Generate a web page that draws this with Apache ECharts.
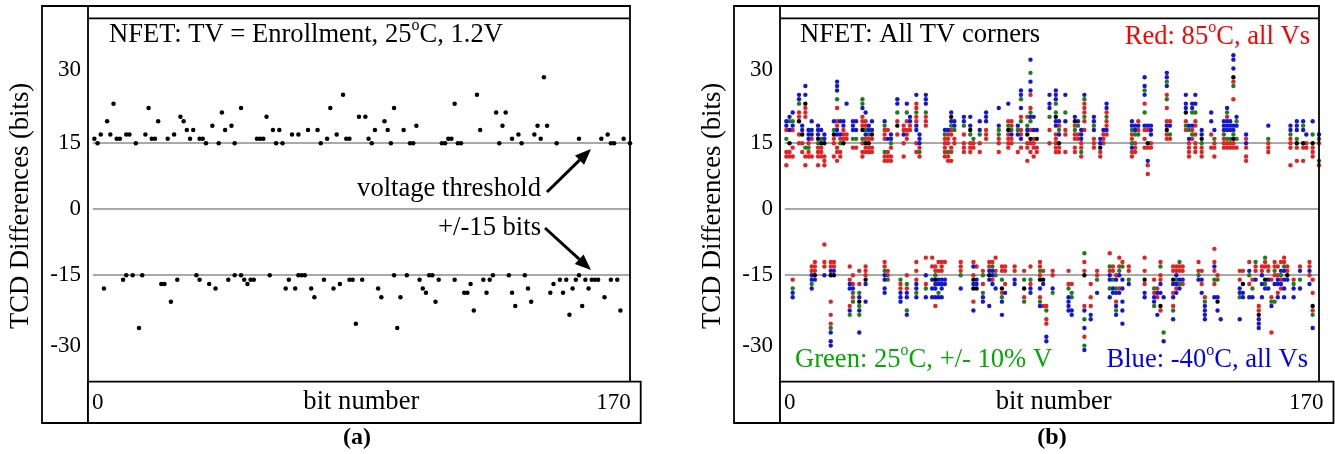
<!DOCTYPE html>
<html><head><meta charset="utf-8">
<script src="https://cdn.jsdelivr.net/npm/echarts@6/dist/echarts.min.js"></script>
<style>html,body{margin:0;padding:0;background:#fff}#c{width:1335px;height:454px}</style>
</head><body><div id="c"></div>
<script>
// ---------- data ----------
const yTicks = [-30, -15, 0, 15, 30];
const thresholds = [15, 0, -15];
const xLabels = ['0', '170'];

// (a) enrollment TCD difference per bit: [bit, value]
const enrollment = [
[2,16],[3,15],[4,17],[6,20],[7,17],[8,24],[9,16],[10,16],[12,17],[13,17],[15,15],[18,17],[19,23],[20,16],[21,16],[22,20],[25,16],[27,17],[29,21],[30,20],[31,18],[32,16],[33,18],[35,16],[36,16],[37,15],[39,19],[41,15],[42,22],[43,18],[45,19],[46,15],[48,23],[53,16],[54,16],[55,16],[56,21],[58,18],[59,15],[60,18],[61,15],[64,17],[66,17],[69,18],[72,18],[73,15],[75,16],[76,23],[78,17],[80,26],[81,16],[82,16],[85,21],[87,21],[88,16],[89,15],[90,18],[93,20],[94,18],[95,15],[96,23],[99,18],[101,15],[102,15],[103,19],[111,15],[112,15],[113,16],[114,16],[115,24],[116,15],[117,15],[122,26],[123,18],[128,22],[129,15],[130,19],[131,22],[133,16],[135,17],[136,15],[140,17],[141,19],[142,16],[143,30],[144,19],[147,15],[154,16],[161,16],[163,17],[164,15],[165,15],[168,16],[170,15],
[5,-18],[11,-16],[12,-15],[14,-15],[16,-27],[17,-15],[23,-17],[24,-17],[26,-21],[28,-16],[34,-15],[35,-16],[38,-17],[40,-18],[44,-16],[46,-15],[48,-15],[49,-16],[50,-17],[51,-16],[52,-16],[57,-15],[62,-18],[63,-16],[65,-18],[66,-15],[67,-15],[68,-15],[70,-18],[71,-20],[74,-16],[77,-18],[79,-17],[82,-16],[83,-16],[84,-26],[86,-16],[91,-18],[92,-20],[96,-15],[97,-27],[98,-20],[100,-15],[104,-16],[105,-18],[106,-19],[107,-15],[108,-15],[109,-21],[110,-16],[115,-16],[118,-19],[119,-19],[120,-17],[121,-23],[124,-16],[125,-19],[126,-16],[127,-15],[132,-15],[133,-19],[134,-22],[137,-15],[138,-18],[139,-21],[145,-19],[146,-17],[148,-16],[149,-19],[150,-16],[151,-24],[152,-18],[153,-16],[154,-15],[155,-22],[156,-16],[157,-18],[158,-16],[159,-16],[160,-16],[162,-20],[164,-16],[166,-16],[167,-23]
];

// (b) all TV corners: [bit, [values...]]
const red85 = [
[2,[18,13,12,10]],[3,[13,12]],[4,[18,14,12]],[6,[22,21,17,15]],[7,[15,13]],[8,[23,22,21,12,10]],[9,[15,13,12]],[10,[16,12]],[12,[14,13,12,10]],[13,[14,13,12]],[14,[12,11,10]],[17,[16,15,12]],[18,[23,20,19,14,13,11]],[19,[16,13,12]],[20,[18,17,16]],[21,[17,16]],[23,[14]],[24,[14]],[26,[21,20,19,15,13,12]],[27,[20,19,16,14,13]],[28,[16,14,13]],[29,[16,14,13]],[33,[18,17,16,12,11]],[34,[18,13,12,11]],[35,[14,12,11]],[37,[20,17]],[39,[19,18,15,12]],[40,[20,18,17,16]],[41,[19,18]],[43,[24,23,21,20,15,13]],[44,[14,12]],[46,[21,20,19]],[52,[16,15,14,13,12]],[53,[17,16,15,12,11]],[54,[18,17,14,13,11]],[55,[16,15]],
[58,[17,15,14,13]],[60,[15,14,13]],[61,[15,14]],[63,[15,13]],[65,[18,17,16]],[69,[16,15,13]],[72,[20,17,16,15,14]],[73,[20,19,16,15]],[75,[13]],[76,[21,18,17,14]],[78,[21,15,14,11]],[79,[26,23,18,15,13]],[80,[16,15,14,12]],[81,[14,13]],[85,[18,15]],[87,[17,16,15,14,13]],[88,[19,14,13]],[90,[18,17,13]],[93,[19,17,16,14,13]],[94,[17,16]],[95,[15,14,12]],[96,[24,23,22,20,18]],[99,[16,15,14]],[101,[13,12]],[102,[17,16,15]],[103,[22,20,19,17]],[111,[17,16,13,12]],[112,[15,14,13]],[113,[20,18]],[115,[24,18,16,14]],[116,[18,14,10,8]],[117,[15,14]],[122,[26,23,20,17,16]],[123,[20,16]],[128,[20,18]],[129,[15,14,13,12]],[130,[18,16]],[131,[20,19,17,15,14,13]],[133,[14,13,12]],[136,[17,14]],[137,[15,14,12]],[140,[16,15,14]],[141,[21,15,14]],[142,[15,14]],[143,[29,25,15,14]],[144,[14]],[147,[16,14,12,11]],[154,[15,14,13]],[161,[16,15,14,10]],[163,[14,11]],[165,[14,11]],[166,[15,14]],[168,[14,13,12]],[170,[15,10]],
[4,[-16]],[10,[-13,-14]],[11,[-12,-13,-14]],[14,[-8,-12,-13]],[16,[-12,-13,-21,-24,-26]],[17,[-12,-13]],[22,[-13,-16,-22]],[23,[-15,-17,-20]],[25,[-14,-17]],[27,[-13,-14,-15]],[33,[-12,-13]],[34,[-14,-15]],[38,[-17,-18]],[40,[-15,-18]],[43,[-12,-14,-16]],[46,[-11,-17]],[48,[-11,-13]],[49,[-13,-14,-22]],[50,[-12,-14]],[51,[-12,-13,-14]],[52,[-12]],[57,[-12,-13,-14]],[61,[-12,-15,-21]],[62,[-13]],[64,[-14,-17]],[66,[-12,-13]],[67,[-12,-16]],[68,[-11,-14]],[70,[-13,-14,-19]],[71,[-13,-14,-17]],[74,[-13,-14]],[77,[-14,-20]],[79,[-13,-17]],[82,[-12,-13,-15,-20]],[83,[-14,-22]],[84,[-22,-25,-26]],[86,[-14,-15]],[91,[-14,-17]],[92,[-17]],[96,[-12,-14,-22,-29]],[98,[-17,-20,-22]],[100,[-14,-15]],[104,[-10,-14]],[105,[-13,-14]],[106,[-15,-21]],[107,[-11,-13,-18]],[108,[-12]],[110,[-13,-14]],[115,[-11,-14,-17]],[118,[-16,-19]],[119,[-18,-20]],[120,[-12,-15,-16,-23]],[124,[-13,-14,-19,-22]],[125,[-13,-14,-18]],[126,[-13,-14]],[127,[-13,-14,-17]],[132,[-12,-14]],[133,[-14,-17]],[134,[-20]],[137,[-9,-12,-14,-17]],[138,[-15]],[145,[-14,-16]],[146,[-14]],[148,[-12,-17]],[149,[-16]],[150,[-13,-14]],[151,[-22,-23]],[152,[-13,-14]],[153,[-12,-13]],[154,[-13,-14]],[155,[-16,-20,-28]],[156,[-12,-13,-15]],[157,[-13,-15,-19]],[158,[-12,-16,-18]],[159,[-11,-12]],[160,[-13,-14]],[162,[-16]],[164,[-13]],[167,[-12,-13,-15]],[168,[-16,-19,-23]]
];
const green25 = [
[2,[16]],[3,[20]],[4,[20]],[6,[24]],[8,[14]],[9,[14]],[12,[15]],[13,[16]],[17,[18]],[18,[25]],[19,[15]],[23,[16]],[24,[16]],[26,[25,24,16]],[27,[18]],[28,[17]],[33,[19,13]],[35,[15]],[37,[22]],[40,[22]],[43,[22]],[44,[13]],[46,[22]],[52,[17]],[53,[13]],[54,[19]],[55,[18]],[58,[19]],[60,[17]],[61,[16]],[63,[17]],[69,[18,17]],[72,[19]],[73,[18]],[75,[18]],[76,[25,20]],[78,[19]],[79,[31,22,20]],[85,[21]],[87,[24,22]],[88,[18]],[90,[22]],[93,[18]],[94,[19]],[95,[13]],[96,[25,21]],[99,[19]],[103,[21]],[111,[18,15]],[112,[17]],[113,[17]],[115,[27,22]],[122,[29,25]],[123,[17]],[128,[19]],[129,[18]],[130,[22,17]],[131,[22]],[133,[15]],[137,[16]],[140,[17]],[141,[22,16]],[142,[16]],[143,[28,17]],[144,[20,16]],[154,[16]],[161,[17]],[163,[16]],[165,[19]],[168,[17]],[170,[16,11]],
[4,[-18]],[10,[-17]],[16,[-27]],[22,[-24]],[23,[-19,-21]],[25,[-19,-22,-24]],[33,[-14]],[34,[-16]],[38,[-16]],[40,[-17,-23]],[43,[-19]],[46,[-18]],[49,[-15]],[50,[-19]],[57,[-15]],[64,[-15,-19]],[67,[-13]],[68,[-15]],[70,[-16,-20]],[77,[-16,-21]],[79,[-16]],[82,[-14,-21]],[84,[-23]],[86,[-19]],[91,[-18]],[92,[-19,-20]],[96,[-10,-25,-31]],[100,[-16]],[104,[-13,-18]],[105,[-16]],[106,[-18,-23]],[107,[-14]],[108,[-13]],[110,[-16]],[118,[-18,-22]],[120,[-13]],[121,[-28]],[124,[-23]],[125,[-16]],[126,[-12,-17]],[132,[-15]],[134,[-21]],[137,[-16]],[138,[-16]],[145,[-20]],[148,[-15]],[149,[-18]],[150,[-12]],[153,[-11,-17]],[155,[-21]],[156,[-14,-21]],[158,[-15]],[159,[-13]],[162,[-17]],[164,[-16]],[168,[-24]]
];
const blueM40 = [
[2,[20,19]],[3,[21,18]],[4,[22,19]],[6,[26,25]],[7,[19,18]],[8,[28,26]],[9,[18,17,16]],[10,[20,18,17]],[12,[19,18,17]],[13,[18]],[14,[17,16]],[17,[20]],[18,[29,28,27,18,17]],[19,[20,17]],[20,[20,19]],[21,[24]],[23,[20,19,18]],[24,[20,18]],[26,[23]],[27,[22,17]],[28,[19,18]],[29,[20,18]],[33,[20]],[34,[16]],[35,[17,16]],[37,[25,24]],[39,[17]],[40,[24]],[41,[21,20]],[43,[26,19,18]],[44,[17,16,15]],[46,[26,25,24]],[52,[18]],[53,[18]],[54,[22,20]],[55,[20,19]],[58,[21,20]],[60,[21,19]],[63,[20,18]],[65,[22,21,20]],[69,[23,19]],[72,[24]],[73,[17]],[75,[19,17]],[76,[27,26,23,16]],[78,[18]],[79,[34,29,27,21]],[80,[21,18]],[81,[18]],[85,[26,24,23]],[87,[27,26,25,20,19]],[88,[20,17]],[90,[26,20]],[93,[21]],[94,[20]],[95,[18,17,16]],[96,[26]],[99,[21,20,18]],[101,[16,15]],[102,[18]],[103,[24,23,18]],[111,[20,19,14]],[112,[19,18]],[113,[19]],[115,[30,28,26,19]],[116,[19,11]],[117,[19,18,17]],[122,[31,30,28,19]],[123,[19]],[128,[26,24,23]],[129,[19,16]],[130,[24,23,19]],[131,[26,24]],[133,[18,17]],[136,[22,20]],[137,[18]],[140,[20,19,18]],[141,[23,20,19,18]],[142,[20,19,18]],[143,[35,34,32,19,18]],[144,[21,19]],[147,[17,15]],[154,[19]],[161,[19,18]],[163,[20,19,18]],[165,[20,18]],[166,[17]],[168,[20]],[170,[17]],
[4,[-19,-20]],[10,[-15,-16,-18]],[11,[-16]],[14,[-15]],[16,[-14,-28,-30,-31]],[17,[-14]],[22,[-17,-18,-23]],[23,[-18]],[25,[-20,-23,-28]],[27,[-17,-21]],[33,[-15,-16,-18,-19]],[38,[-19,-20,-21]],[40,[-19,-20,-24]],[43,[-17,-18,-20]],[46,[-15,-20]],[48,[-16,-18,-20]],[49,[-17,-18,-20]],[50,[-16,-17,-20]],[51,[-16,-17,-18,-20]],[52,[-16,-17]],[57,[-18]],[61,[-13,-17,-23]],[62,[-16,-17]],[64,[-20,-21]],[66,[-14,-16,-22]],[67,[-14,-15,-17]],[68,[-18]],[70,[-21,-24]],[71,[-19]],[74,[-16,-17]],[79,[-18,-19]],[82,[-18,-22]],[83,[-17]],[84,[-29,-30]],[86,[-18]],[91,[-20,-21,-22,-23]],[92,[-23,-24]],[96,[-23,-27,-32]],[98,[-24,-25]],[100,[-19]],[104,[-15,-16,-20]],[105,[-18,-19]],[106,[-16,-19,-22,-24]],[107,[-15,-19]],[108,[-16,-18,-21,-23,-26]],[110,[-17]],[115,[-19,-20]],[118,[-20,-21]],[119,[-19,-24]],[120,[-17,-19]],[121,[-20,-30]],[124,[-17,-20,-25]],[125,[-15,-17,-19]],[126,[-16,-18]],[127,[-16]],[132,[-16]],[133,[-16,-19]],[134,[-22,-23,-24,-25]],[137,[-13,-20]],[138,[-20,-23]],[139,[-25]],[145,[-18,-19,-25]],[146,[-19,-20]],[148,[-14,-20]],[149,[-20]],[150,[-16]],[151,[-25,-26,-27]],[152,[-15,-17,-20]],[153,[-18]],[154,[-16,-18]],[155,[-22]],[156,[-17]],[157,[-16,-17,-20]],[158,[-14,-17]],[159,[-14,-16,-18,-20]],[160,[-16]],[162,[-18,-20]],[164,[-14,-18]],[167,[-14,-17]],[168,[-27]]
];
const blackEnroll = [
[3,[15]],[6,[20]],[7,[17]],[8,[24]],[12,[16]],[13,[15]],[14,[15]],[17,[17]],[20,[15]],[26,[18]],[27,[15]],[28,[15]],[29,[17]],[37,[19]],[54,[21]],[60,[18]],[72,[18]],[78,[17]],[79,[16]],[81,[16]],[87,[21]],[88,[15]],[93,[20]],[101,[14]],[116,[15]],[122,[18]],[128,[22]],[133,[16]],[143,[30,16]],[163,[15]],[165,[15]],[168,[15]],
[11,[-15]],[16,[-15]],[17,[-15]],[25,[-21]],[27,[-16]],[49,[-16]],[61,[-16,-18]],[62,[-18]],[66,[-15]],[70,[-18]],[77,[-18]],[82,[-16]],[83,[-16]],[96,[-15]],[115,[-16]],[120,[-22]],[124,[-16]],[138,[-21]],[146,[-17]],[151,[-24]],[153,[-16]],[160,[-15]],[168,[-22]]
];

// ---------- helpers ----------
const FONT = 'Liberation Serif';
const TXT = 26.6;
function flat(cols) { const out = []; cols.forEach(c => c[1].forEach(v => out.push([c[0], v]))); return out; }

const TOP = 6, STRIP = 18.3, XTOP = 381.7, BOTTOM = 423;
const panels = [
  {outerL: 42, plotL: 88, plotR: 630, boxR: 640.7},
  {outerL: 734, plotL: 780, plotR: 1319, boxR: 1333.5}
];
const YMIN = -39.2, YMAX = 43.4;

const graphic = [];
const lw = 1.8;
panels.forEach(p => {
  graphic.push({type:'rect', shape:{x:p.outerL, y:TOP, width:p.plotR - p.outerL, height:BOTTOM - TOP}, style:{fill:'none', stroke:'#000', lineWidth:lw}, z:10});
  graphic.push({type:'line', shape:{x1:p.plotL, y1:TOP, x2:p.plotL, y2:BOTTOM}, style:{stroke:'#000', lineWidth:lw}, z:10});
  graphic.push({type:'line', shape:{x1:p.plotL, y1:STRIP, x2:p.plotR, y2:STRIP}, style:{stroke:'#000', lineWidth:lw}, z:10});
  graphic.push({type:'rect', shape:{x:p.plotL, y:XTOP, width:p.boxR - p.plotL, height:BOTTOM - XTOP}, style:{fill:'#fff', stroke:'#000', lineWidth:lw}, z:10});
  graphic.push({type:'text', x:p.plotL + 4, y:403, style:{text:xLabels[0], font:'23px ' + FONT, fill:'#000', textAlign:'left', textVerticalAlign:'middle'}, z:11});
  graphic.push({type:'text', x:p.boxR - 10, y:403, style:{text:xLabels[1], font:'23px ' + FONT, fill:'#000', textAlign:'right', textVerticalAlign:'middle'}, z:11});
  graphic.push({type:'text', x:(p.plotL + p.boxR) / 2 - 3, y:402, style:{text:'bit number', font:TXT + 'px ' + FONT, fill:'#000', textAlign:'center', textVerticalAlign:'middle'}, z:11});
  graphic.push({type:'text', x:p.outerL - 21, y:206, rotation:Math.PI / 2, style:{text:'TCD Differences (bits)', font:TXT + 'px ' + FONT, fill:'#000', textAlign:'center', textVerticalAlign:'middle'}, z:11});
});
const sup = {fontSize:16, fontFamily:FONT, padding:[0,0,18,0]};
function richText(x, y, txt, color, align) {
  return {type:'text', x:x, y:y, z:11, style:{text:txt, fill:color, textAlign:align, textVerticalAlign:'middle', fontSize:TXT, fontFamily:FONT,
    rich:{s:Object.assign({fill:color}, sup)}}};
}
graphic.push(richText(109, 35, 'NFET: TV = Enrollment, 25{s|o}C, 1.2V', '#000', 'left'));
graphic.push(richText(800, 35, 'NFET: All TV corners', '#000', 'left'));
graphic.push(richText(1310, 37, 'Red: 85{s|o}C, all Vs', '#ff0000', 'right'));
graphic.push(richText(795, 360, 'Green: 25{s|o}C, +/- 10% V', '#00aa00', 'left'));
graphic.push(richText(1308, 360, 'Blue: -40{s|o}C, all Vs', '#0000ff', 'right'));
graphic.push(richText(541, 189, 'voltage threshold', '#000', 'right'));
graphic.push(richText(541, 228, '+/-15 bits', '#000', 'right'));
graphic.push({type:'text', x:357, y:438, z:11, style:{text:'(a)', font:'bold 24px ' + FONT, fill:'#000', textAlign:'center', textVerticalAlign:'middle'}});
graphic.push({type:'text', x:1052, y:438, z:11, style:{text:'(b)', font:'bold 24px ' + FONT, fill:'#000', textAlign:'center', textVerticalAlign:'middle'}});

function arrow(x1, y1, x2, y2) {
  const dx = x2 - x1, dy = y2 - y1, L = Math.hypot(dx, dy), ux = dx / L, uy = dy / L;
  const hl = 16, hw = 6.5, bx = x2 - hl * ux, by = y2 - hl * uy;
  graphic.push({type:'line', z:11, shape:{x1:x1, y1:y1, x2:bx, y2:by}, style:{stroke:'#000', lineWidth:3}});
  graphic.push({type:'polygon', z:11, shape:{points:[[x2, y2], [bx - hw * uy, by + hw * ux], [bx + hw * uy, by - hw * ux]]}, style:{fill:'#000'}});
}
arrow(547, 192, 591, 149);
arrow(545, 228, 591, 270);

function yAxisCfg(gi) {
  return {gridIndex:gi, type:'value', min:YMIN, max:YMAX,
    axisLine:{show:false}, axisTick:{show:false}, splitLine:{show:false},
    axisLabel:{customValues:yTicks, margin:7, color:'#000', fontFamily:FONT, fontSize:23,
      formatter:v => v === 30 ? '{u|30}' : (v === -30 ? '{d|-30}' : '{n|' + v + '}'),
      rich:{u:{fontFamily:FONT, fontSize:23, padding:[0,0,14,0]}, d:{fontFamily:FONT, fontSize:23, padding:[10,0,0,0]}, n:{fontFamily:FONT, fontSize:23}}}};
}
function xAxisCfg(gi) {
  return {gridIndex:gi, type:'value', min:0, max:170, show:false};
}
function refLines(gi) {
  return {type:'scatter', xAxisIndex:gi, yAxisIndex:gi, data:[], z:1, silent:true,
    markLine:{silent:true, z:1, symbol:'none', label:{show:false}, lineStyle:{color:'#8c8c8c', width:1.5, type:'solid'},
      data:thresholds.map(t => [{coord:[1.5, t]}, {coord:[170, t]}])}};
}
function scatter(gi, data, color, size) {
  return {type:'scatter', xAxisIndex:gi, yAxisIndex:gi, data:data, symbolSize:size, z:3, itemStyle:{color:color, opacity:1}, silent:true};
}

const option = {
  animation:false,
  backgroundColor:'#fff',
  grid:[
    {left:88, top:STRIP, width:542, height:XTOP - STRIP},
    {left:780, top:STRIP, width:539, height:XTOP - STRIP}
  ],
  xAxis:[xAxisCfg(0), xAxisCfg(1)],
  yAxis:[yAxisCfg(0), yAxisCfg(1)],
  series:[
    refLines(0),
    refLines(1),
    scatter(0, enrollment, '#000', 4.5),
    scatter(1, flat(red85), '#e32222', 4.4),
    scatter(1, flat(green25), '#1f7d1f', 4.4),
    scatter(1, flat(blueM40), '#1515d4', 4.4),
    scatter(1, flat(blackEnroll), '#000', 4.4)
  ],
  graphic:graphic
};
const chart = echarts.init(document.getElementById('c'), null, {renderer:'canvas'});
chart.setOption(option);
</script></body></html>
